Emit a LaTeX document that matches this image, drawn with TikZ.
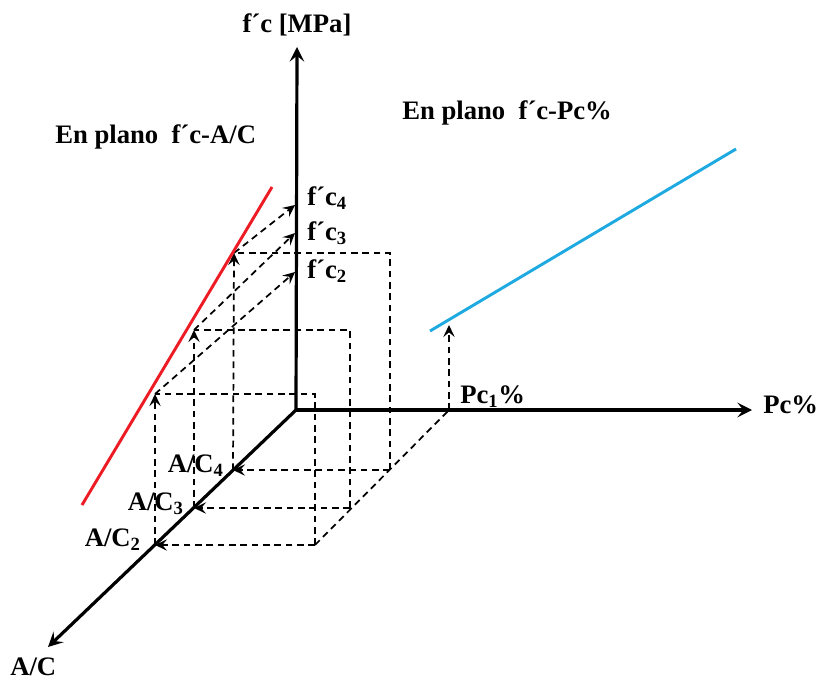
\documentclass[tikz,border=0pt]{standalone}
\usepackage{fontspec}
\setmainfont{Liberation Serif}
\usetikzlibrary{arrows.meta}
\definecolor{planeRed}{RGB}{237,28,36}
\definecolor{planeBlue}{RGB}{30,170,225}
\tikzset{
  axisline/.style={line width=2.4pt, -{Stealth[length=11pt,width=11pt,inset=4.5pt]}},
  guide/.style={line width=1.3pt, dash pattern=on 5pt off 3.5pt},
  guidearrow/.style={guide, -{Stealth[length=9pt,width=8.5pt,inset=3.5pt]}},
  lbl/.style={font=\fontsize{20}{24}\selectfont\bfseries, inner sep=0pt},
  redline/.style={line width=2.2pt, planeRed},
  blueline/.style={line width=2.2pt, planeBlue},
}
\begin{document}
\begin{tikzpicture}[x=0.75pt, y=-0.75pt]
  \useasboundingbox (0,0) rectangle (823,681);

  % axes ends and reference points
  \coordinate (O) at (296,410);
  \coordinate (Ytop) at (297,47);
  \coordinate (Xend) at (752,410);
  \coordinate (Zend) at (48,647);
  \coordinate (A2) at (155,545); \coordinate (A3) at (194,508); \coordinate (A4) at (233,470);
  \coordinate (P2) at (155,394); \coordinate (P3) at (194,330); \coordinate (P4) at (234,253);
  \coordinate (F2) at (295,272); \coordinate (F3) at (295,233); \coordinate (F4) at (295,205);
  \coordinate (B2) at (315,545); \coordinate (B3) at (350,508); \coordinate (B4) at (390,470);
  \coordinate (Pc1) at (449,410); \coordinate (Q1) at (449,325);

  % dashed projections
  \foreach \i in {2,3,4} {
    \draw[guidearrow] (B\i) -- (A\i);
    \draw[guide] (B\i) -- (B\i |- P\i) -- (P\i);
    \draw[guidearrow] (A\i) -- (P\i);
    \draw[guidearrow] (P\i) -- (F\i);
  }
  \draw[guide] (B2) -- (Pc1);
  \draw[guidearrow] (Pc1) -- (Q1);

  % axes
  \draw[axisline] (O) -- (Ytop);
  \draw[axisline] (O) -- (Xend);
  \draw[axisline] (O) -- (Zend);

  % trend lines
  \coordinate (R1) at (82,505); \coordinate (R2) at (272,187);
  \draw[redline] (R1) -- (R2);
  \coordinate (S1) at (430,331); \coordinate (S2) at (736,149);
  \draw[blueline] (S1) -- (S2);

  % labels
  \node[lbl, anchor=base] (fcaxis) at (297,33) {f´c [MPa]};
  \node[lbl, anchor=base west] (pcaxis) at (763,413) {Pc\%};
  \node[lbl, anchor=base west] (acaxis) at (10,675) {A/C};
  \node[lbl, anchor=base west] (planeac) at (55,143) {En plano\ \ f´c-A/C};
  \node[lbl, anchor=base west] (planepc) at (402,119) {En plano\ \ f´c-Pc\%};
  \node[lbl, anchor=base west] (pcone) at (460,403) {Pc\textsubscript{1}\%};
  \node[lbl, anchor=base east] (acfour) at (224,472) {A/C\textsubscript{4}};
  \node[lbl, anchor=base east] (acthree) at (184,510) {A/C\textsubscript{3}};
  \node[lbl, anchor=base east] (actwo) at (141,546) {A/C\textsubscript{2}};
  \node[lbl, anchor=base west] (fcfour) at (307,205) {f´c\textsubscript{4}};
  \node[lbl, anchor=base west] (fcthree) at (307,240) {f´c\textsubscript{3}};
  \node[lbl, anchor=base west] (fctwo) at (307,278) {f´c\textsubscript{2}};
\end{tikzpicture}
\end{document}
